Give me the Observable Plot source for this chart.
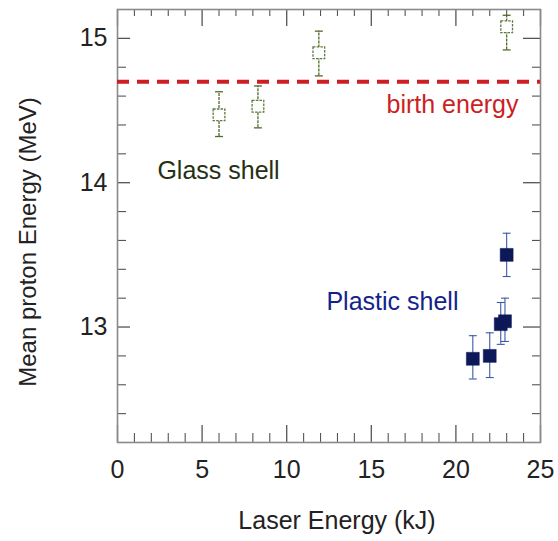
<!DOCTYPE html>
<html>
<head>
<meta charset="utf-8">
<script src="https://cdn.jsdelivr.net/npm/d3@7"></script>
<script src="https://cdn.jsdelivr.net/npm/@observablehq/plot@0.6"></script>
<style>
  body { margin: 0; background: #fff; }
  #chart svg { display: block; }
</style>
</head>
<body>
<div id="chart"></div>
<script>
// ---- data ----
const glassX  = [6.0, 8.3, 11.9, 23.0];
const glassY  = [14.47, 14.53, 14.90, 15.08];
const glassLo = [14.32, 14.38, 14.74, 14.92];
const glassHi = [14.63, 14.67, 15.05, 15.16];

const plasticX  = [21.0, 22.0, 22.65, 22.9, 23.0];
const plasticY  = [12.78, 12.80, 13.02, 13.04, 13.50];
const plasticLo = [12.64, 12.65, 12.88, 12.90, 13.35];
const plasticHi = [12.94, 12.96, 13.17, 13.20, 13.65];

const birthEnergy = [14.7];

const xMajorTicks = [0, 5, 10, 15, 20, 25];
const xMinorTicks = [1, 2, 3, 4, 6, 7, 8, 9, 11, 12, 13, 14, 16, 17, 18, 19, 21, 22, 23, 24];
const yMajorTicks = [13, 14, 15];
const yMinorTicks = [12.4, 12.6, 12.8, 13.2, 13.4, 13.6, 13.8, 14.2, 14.4, 14.6, 14.8];

const labels = [
  {x: 19.8, y: 14.54, text: "birth energy", color: "#cc1f24"},
  {x: 5.97, y: 14.08, text: "Glass shell", color: "#263012"},
  {x: 16.25, y: 13.17, text: "Plastic shell", color: "#14238a"}
];

// ---- build ----
const glass = glassX.map((x, i) => ({x, y: glassY[i], lo: glassLo[i], hi: glassHi[i]}));
const plastic = plasticX.map((x, i) => ({x, y: plasticY[i], lo: plasticLo[i], hi: plasticHi[i]}));

const W = 558, H = 541;
const mt = 9, mb = 99, ml = 117, mr = 18;
const innerH = H - mt - mb, innerW = W - ml - mr;

const capSymbol = {
  draw(context, size) {
    const w = Math.sqrt(size) / 2;
    context.moveTo(-w, 0);
    context.lineTo(w, 0);
  }
};

const tickColor = "#555";

const chart = Plot.plot({
  width: W,
  height: H,
  marginTop: mt,
  marginBottom: mb,
  marginLeft: ml,
  marginRight: mr,
  style: {fontFamily: "'Liberation Sans', Arial, sans-serif", background: "#fff"},
  x: {domain: [0, 25]},
  y: {domain: [12.2, 15.2]},
  marks: [
    // inward ticks - bottom
    Plot.ruleX(xMajorTicks, {stroke: tickColor, strokeWidth: 1.3, insetTop: innerH - 17}),
    Plot.ruleX(xMinorTicks, {stroke: tickColor, strokeWidth: 1.1, insetTop: innerH - 9}),
    // top
    Plot.ruleX(xMajorTicks, {stroke: tickColor, strokeWidth: 1.3, insetBottom: innerH - 17}),
    Plot.ruleX(xMinorTicks, {stroke: tickColor, strokeWidth: 1.1, insetBottom: innerH - 7}),
    // left
    Plot.ruleY(yMajorTicks, {stroke: tickColor, strokeWidth: 1.3, insetRight: innerW - 13}),
    Plot.ruleY(yMinorTicks, {stroke: tickColor, strokeWidth: 1.1, insetRight: innerW - 9}),
    // right
    Plot.ruleY(yMajorTicks, {stroke: tickColor, strokeWidth: 1.3, insetLeft: innerW - 17}),
    Plot.ruleY(yMinorTicks, {stroke: tickColor, strokeWidth: 1.1, insetLeft: innerW - 8}),

    Plot.frame({stroke: "#8a8a8a", strokeWidth: 1.6}),

    // tick labels
    Plot.axisX(xMajorTicks, {tickSize: 0, tickPadding: 18, fontSize: 25, label: null, color: "#222", tickFormat: d => String(d)}),
    Plot.axisY(yMajorTicks, {tickSize: 0, tickPadding: 10, fontSize: 25, label: null, color: "#222", tickFormat: d => String(d)}),

    // birth energy line
    Plot.ruleY(birthEnergy, {stroke: "#cc1f24", strokeWidth: 4, strokeDasharray: "12,8"}),

    // glass shell
    Plot.ruleX(glass, {x: "x", y1: "lo", y2: "hi", stroke: "#4f6b2a", strokeWidth: 1.3, strokeDasharray: "3,1"}),
    Plot.dot(glass, {x: "x", y: "lo", symbol: capSymbol, r: 4.5, stroke: "#4f6b2a", strokeWidth: 1.3}),
    Plot.dot(glass, {x: "x", y: "hi", symbol: capSymbol, r: 4.5, stroke: "#4f6b2a", strokeWidth: 1.3}),
    Plot.dot(glass, {x: "x", y: "y", symbol: "square", r: 6.6, fill: "#fff", stroke: "#5b7a3a", strokeWidth: 1.3, strokeDasharray: "2.5,1.2"}),

    // plastic shell
    Plot.ruleX(plastic, {x: "x", y1: "lo", y2: "hi", stroke: "#3a5aa8", strokeWidth: 1.1}),
    Plot.dot(plastic, {x: "x", y: "lo", symbol: capSymbol, r: 4.5, stroke: "#3a5aa8", strokeWidth: 1.1}),
    Plot.dot(plastic, {x: "x", y: "hi", symbol: capSymbol, r: 4.5, stroke: "#3a5aa8", strokeWidth: 1.1}),
    Plot.dot(plastic, {x: "x", y: "y", symbol: "square", r: 7.3, fill: "#0c1858", stroke: "#0c1858", strokeWidth: 0.5}),

    // annotations
    Plot.text(labels, {x: "x", y: "y", text: "text", fill: "color", fontSize: 25}),

    // axis titles
    Plot.text(["Laser Energy (kJ)"], {frameAnchor: "bottom", textAnchor: "middle", dx: 8, dy: 86, fontSize: 25, fill: "#222"}),
    Plot.text(["Mean proton Energy (MeV)"], {frameAnchor: "left", textAnchor: "middle", rotate: -90, dx: -89, dy: 16, fontSize: 24, fill: "#222"})
  ]
});

document.getElementById("chart").appendChild(chart);
</script>
</body>
</html>
